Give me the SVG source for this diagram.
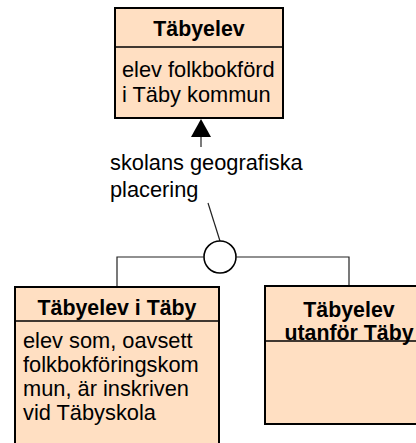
<svg xmlns="http://www.w3.org/2000/svg" width="416" height="443" viewBox="0 0 416 443">
<style>
.box{fill:#FFDFC2;stroke:#000;stroke-width:2}
.div{stroke:#000;stroke-width:1.5}
.t{font-family:"Liberation Sans",Arial,sans-serif;font-size:21.8px;fill:#000}
.b{font-weight:bold;text-anchor:middle;font-size:21.33px}
.c{fill:none;stroke:#222;stroke-width:1.2}
</style>
<rect width="416" height="443" fill="#fff"/>
<g id="connectors">
<polygon points="201,119 191,137 211,137" fill="#000"/>
<line class="c" x1="201" y1="137" x2="201" y2="147"/>
<line class="c" x1="208" y1="203" x2="220" y2="241"/>
<circle cx="220" cy="257" r="16" fill="#fff" stroke="#000" stroke-width="1.6"/>
<polyline class="c" points="204,257 117,257 117,287"/>
<polyline class="c" points="236,257 349,257 349,286"/>
<text class="t" x="110" y="170">skolans geografiska</text>
<text class="t" x="110" y="197">placering</text>
</g>
<g id="tabyelev">
<rect class="box" x="115" y="8" width="168" height="110"/>
<line class="div" x1="115" y1="47" x2="283" y2="47"/>
<text class="t b" x="199" y="36">Täbyelev</text>
<text class="t" x="122" y="77">elev folkbokförd</text>
<text class="t" x="122" y="102">i Täby kommun</text>
</g>
<g id="tabyelev-i-taby">
<rect class="box" x="15" y="287" width="204" height="170"/>
<line class="div" x1="15" y1="321" x2="219" y2="321"/>
<text class="t b" x="117" y="315">Täbyelev i Täby</text>
<text class="t" x="23" y="348">elev som, oavsett</text>
<text class="t" x="23" y="372">folkbokföringskom</text>
<text class="t" x="23" y="396">mun, är inskriven</text>
<text class="t" x="23" y="420">vid Täbyskola</text>
</g>
<g id="tabyelev-utanfor-taby">
<rect class="box" x="265" y="286" width="168" height="138"/>
<line class="div" x1="265" y1="341" x2="433" y2="341"/>
<text class="t b" x="349" y="317">Täbyelev</text>
<text class="t b" x="349" y="340">utanför Täby</text>
</g>
</svg>
